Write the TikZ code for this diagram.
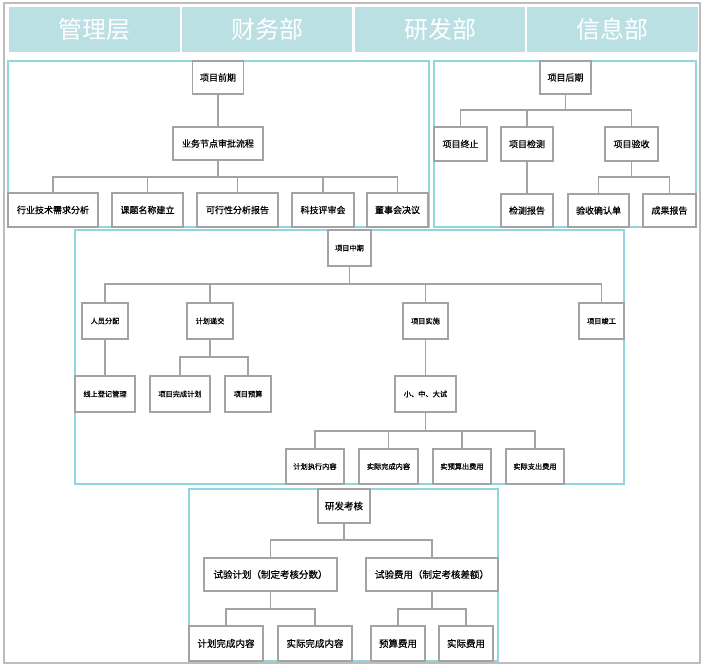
\documentclass[tikz,border=0pt]{standalone}
\usepackage{fontspec}
\setmainfont{Noto Sans CJK SC}
\newfontfamily\boxfont{Noto Sans CJK SC}[FakeBold=0.6]
\definecolor{hdrfill}{HTML}{BBE0E3}
\definecolor{framec}{HTML}{8FD6DE}
\definecolor{boxc}{HTML}{A3A3A3}
\definecolor{outerc}{HTML}{BDBDBD}
\tikzset{
  bx/.style={draw=boxc, line width=1.1pt, fill=white, inner sep=0pt, align=center, text=black},
  big/.style={bx, font=\boxfont\fontsize{9}{10}\selectfont},
  small/.style={bx, font=\boxfont\fontsize{7.2}{8}\selectfont},
  bigb/.style={bx, font=\boxfont\fontsize{9.5}{10}\selectfont},
  ln/.style={draw=boxc, line width=1.1pt},
  frm/.style={draw=framec, line width=1.2pt},
  hdr/.style={fill=hdrfill, draw=none, inner sep=0pt, text=white, font=\fontsize{24}{25}\selectfont},
}
\newcommand\busto[3]{\foreach \c in {#3}{\draw[ln] (#1.south) -- (#1.south |- 0,#2) -| (\c.north);}}
\begin{document}
\begin{tikzpicture}[x=1pt,y=-1pt]
\useasboundingbox (0,0) rectangle (703,666);
\fill[white] (0,0) rectangle (703,666);
\draw[outerc, line width=2pt] (3.5,3.5) rectangle (699.5,662.5);
% header
\node[hdr, minimum width=171, minimum height=45] (h1) at (94.5,29.5) {管理层};
\node[hdr, minimum width=170, minimum height=45] (h2) at (267,29.5) {财务部};
\node[hdr, minimum width=170, minimum height=45] (h3) at (440,29.5) {研发部};
\node[hdr, minimum width=171, minimum height=45] (h4) at (612.5,29.5) {信息部};
% frames
\draw[frm] (8,61) rectangle (429,227);
\draw[frm] (434,61) rectangle (696,227);
\draw[frm] (75,230) rectangle (624,484);
\draw[frm] (189,489) rectangle (498,661);
% ---- top-left tree
\node[big, minimum width=51, minimum height=33] (pq) at (218,77.5) {项目前期};
\node[big, minimum width=90, minimum height=33] (yw) at (218,143.5) {业务节点审批流程};
\node[big, minimum width=90, minimum height=34] (hy) at (53,210) {行业技术需求分析};
\node[big, minimum width=71, minimum height=34] (kt) at (147.5,210) {课题名称建立};
\node[big, minimum width=81, minimum height=34] (kx) at (237.5,210) {可行性分析报告};
\node[big, minimum width=62, minimum height=34] (kj) at (323,210) {科技评审会};
\node[big, minimum width=61, minimum height=34] (ds) at (397.5,210) {董事会决议};
\draw[ln] (pq.south) -- (yw.north);
\busto{yw}{177}{hy,kt,kx,kj,ds}
% ---- top-right tree
\node[big, minimum width=51, minimum height=33] (hq) at (565.5,77.5) {项目后期};
\node[big, minimum width=53, minimum height=34] (zz) at (460.5,144) {项目终止};
\node[big, minimum width=52, minimum height=34] (jc) at (527,144) {项目检测};
\node[big, minimum width=53, minimum height=34] (ys) at (631.5,144) {项目验收};
\node[big, minimum width=52, minimum height=33] (jb) at (527,210.5) {检测报告};
\node[big, minimum width=61, minimum height=33] (qr) at (598.5,210.5) {验收确认单};
\node[big, minimum width=53, minimum height=33] (cg) at (669.5,210.5) {成果报告};
\busto{hq}{110}{zz,jc,ys}
\draw[ln] (jc.south) -- (jb.north);
\busto{ys}{177}{qr,cg}
% ---- middle tree
\node[small, minimum width=43, minimum height=36] (zq) at (349.5,248) {项目中期};
\node[small, minimum width=46, minimum height=36] (ry) at (105,321) {人员分配};
\node[small, minimum width=46, minimum height=36] (jh) at (210,321) {计划递交};
\node[small, minimum width=45, minimum height=36] (ss) at (425.5,321) {项目实施};
\node[small, minimum width=45, minimum height=36] (jg) at (601.5,321) {项目竣工};
\node[small, minimum width=60, minimum height=36] (xs) at (105,394) {线上登记管理};
\node[small, minimum width=60, minimum height=36] (wc) at (180,394) {项目完成计划};
\node[small, minimum width=46, minimum height=36] (yb) at (248,394) {项目预算};
\node[small, minimum width=61, minimum height=36] (xzd) at (425.5,394) {小、中、大试};
\node[small, minimum width=58, minimum height=35] (zx) at (315,466.5) {计划执行内容};
\node[small, minimum width=59, minimum height=35] (sj) at (388.5,466.5) {实际完成内容};
\node[small, minimum width=58, minimum height=35] (ysc) at (462,466.5) {实预算出费用};
\node[small, minimum width=58, minimum height=35] (zc) at (535,466.5) {实际支出费用};
\busto{zq}{284}{ry,jh,ss,jg}
\draw[ln] (ry.south) -- (xs.north);
\busto{jh}{357}{wc,yb}
\draw[ln] (ss.south) -- (xzd.north);
\busto{xzd}{431}{zx,sj,ysc,zc}
% ---- bottom tree
\node[bigb, minimum width=52, minimum height=34] (kh) at (344,506) {研发考核};
\node[bigb, minimum width=133, minimum height=33] (sy) at (270.5,574.5) {试验计划（制定考核分数）};
\node[bigb, minimum width=132, minimum height=33] (fy) at (432,574.5) {试验费用（制定考核差额）};
\node[bigb, minimum width=74, minimum height=35] (wcn) at (226,643.5) {计划完成内容};
\node[bigb, minimum width=74, minimum height=35] (sjn) at (315,643.5) {实际完成内容};
\node[bigb, minimum width=54, minimum height=35] (ysf) at (398,643.5) {预算费用};
\node[bigb, minimum width=54, minimum height=35] (sjf) at (466,643.5) {实际费用};
\busto{kh}{540}{sy,fy}
\busto{sy}{609}{wcn,sjn}
\busto{fy}{609}{ysf,sjf}
\end{tikzpicture}
\end{document}
